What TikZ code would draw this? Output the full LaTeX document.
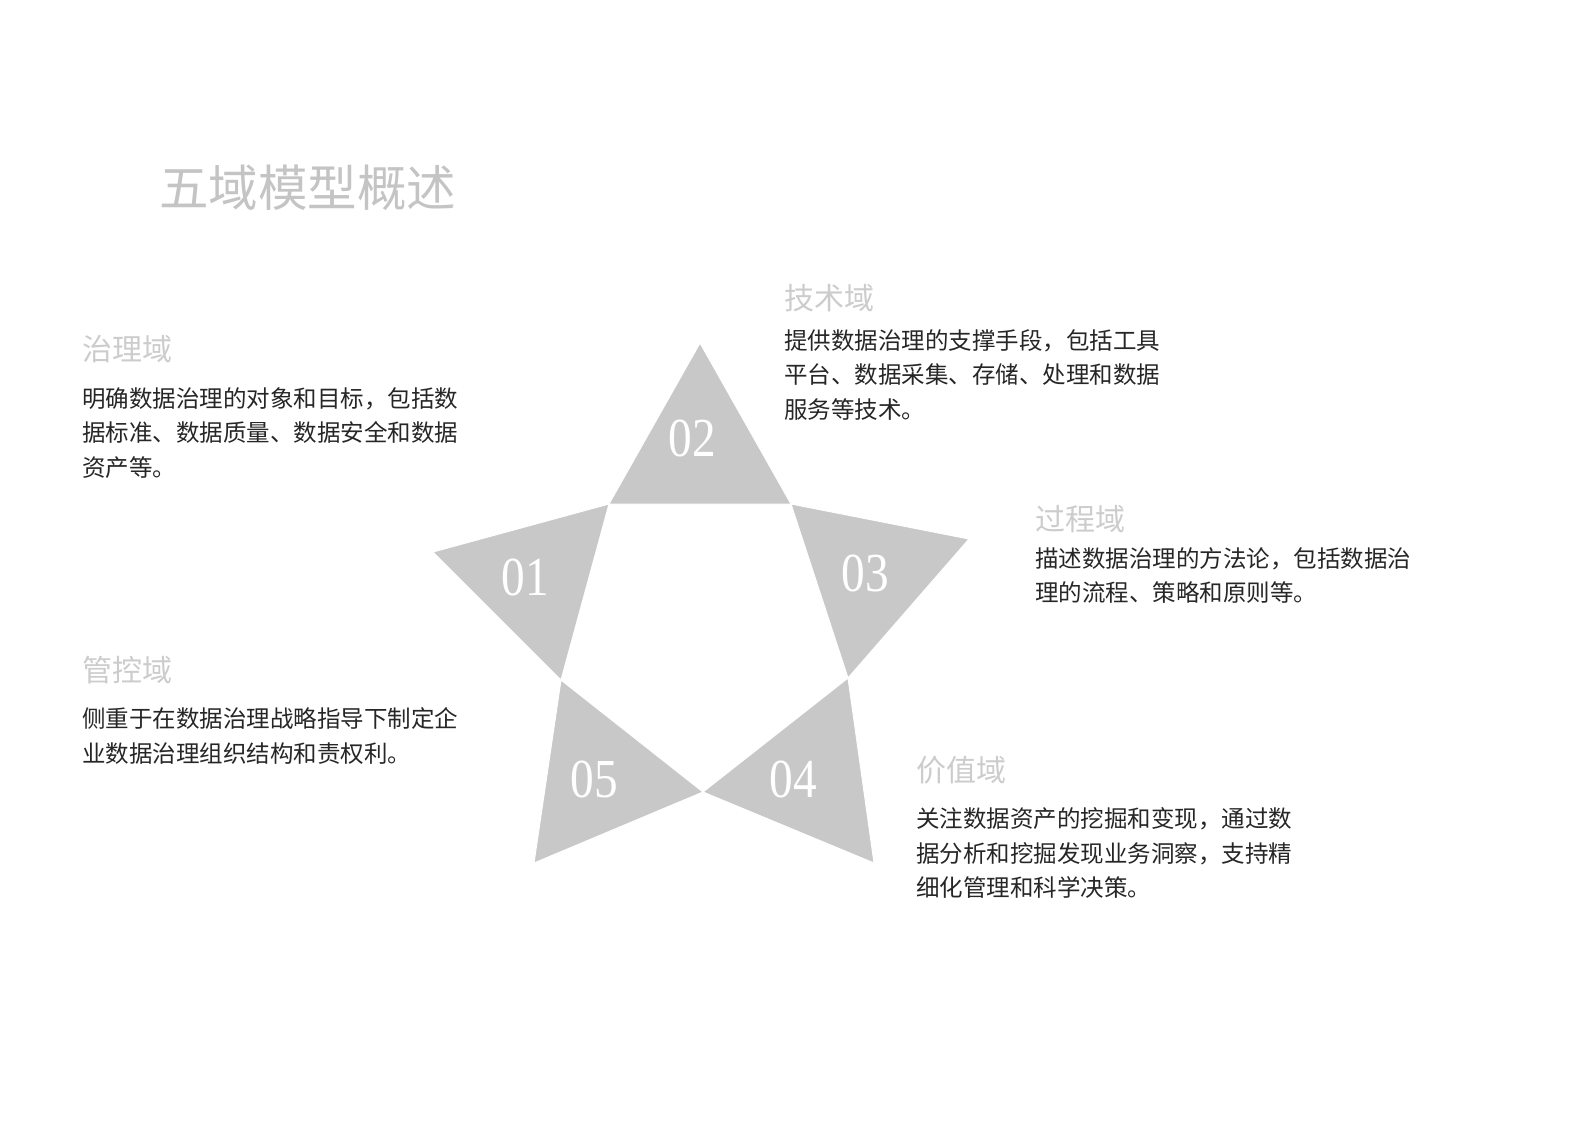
\documentclass[tikz,border=0pt]{standalone}
\usepackage{fontspec}
\newfontfamily\cjk{Noto Sans CJK SC}
\newfontfamily\numfont{Liberation Serif}[FakeStretch = 0.86]

\definecolor{starfill}{RGB}{200,200,200}
\definecolor{headgray}{RGB}{204,204,204}
\definecolor{titlegray}{RGB}{196,196,196}
\definecolor{bodytext}{RGB}{38,38,38}

\begin{document}
\begin{tikzpicture}[x = 1pt, y = -1pt,
	spike/.style = {fill = starfill, draw = white, line width = 1pt},
	num/.style = {text = white, font = \numfont\fontsize{55}{55}\selectfont, inner sep = 0},
	areahead/.style = {anchor = west, text = headgray, font = \cjk\fontsize{30}{30}\selectfont, inner sep = 0},
	areatext/.style = {anchor = north west, align = left, text = bodytext, font = \cjk\fontsize{23.5}{34.4}\selectfont, inner sep = 0}]
						\useasboundingbox (0, 0) rectangle (1587, 1122);

						\node [anchor = west, text = titlegray, font = \cjk\fontsize{49.5}{49.5}\selectfont, inner sep = 0] (title) at (159, 188) {五域模型概述};

						\coordinate (s1) at (433, 552);
						\coordinate (s2) at (700, 343);
						\coordinate (s3) at (969, 539);
						\coordinate (s4) at (874, 863);
						\coordinate (s5) at (534, 863);

						\coordinate (i1) at (609, 504);
						\coordinate (i2) at (791, 504);
						\coordinate (i3) at (848, 678);
						\coordinate (i4) at (703, 792);
						\coordinate (i5) at (561, 680);

						\draw [spike] (s1) -- (i1) -- (i5) -- cycle;
						\draw [spike] (s2) -- (i2) -- (i1) -- cycle;
						\draw [spike] (s3) -- (i3) -- (i2) -- cycle;
						\draw [spike] (s4) -- (i4) -- (i3) -- cycle;
						\draw [spike] (s5) -- (i5) -- (i4) -- cycle;

						\node [num] (n1) at (525, 577) {01};
						\node [num] (n2) at (692, 438) {02};
						\node [num] (n3) at (865, 573) {03};
						\node [num] (n4) at (793, 779) {04};
						\node [num] (n5) at (594, 779) {05};

						\node [areahead] (gov) at (82, 349) {治理域};
						\node [areatext] (govtext) at (82, 387.5) {明确数据治理的对象和目标，包括数\\据标准、数据质量、数据安全和数据\\资产等。};

						\node [areahead] (ctl) at (82, 670) {管控域};
						\node [areatext] (ctltext) at (82, 707.5) {侧重于在数据治理战略指导下制定企\\业数据治理组织结构和责权利。};

						\node [areahead] (tech) at (784, 298) {技术域};
						\node [areatext] (techtext) at (784, 329.5) {提供数据治理的支撑手段，包括工具\\平台、数据采集、存储、处理和数据\\服务等技术。};

						\node [areahead] (proc) at (1035, 519) {过程域};
						\node [areatext] (proctext) at (1035, 547.5) {描述数据治理的方法论，包括数据治\\理的流程、策略和原则等。};

						\node [areahead] (val) at (916, 770) {价值域};
						\node [areatext] (valtext) at (916, 807.5) {关注数据资产的挖掘和变现，通过数\\据分析和挖掘发现业务洞察，支持精\\细化管理和科学决策。};
					\end{tikzpicture}
\end{document}
